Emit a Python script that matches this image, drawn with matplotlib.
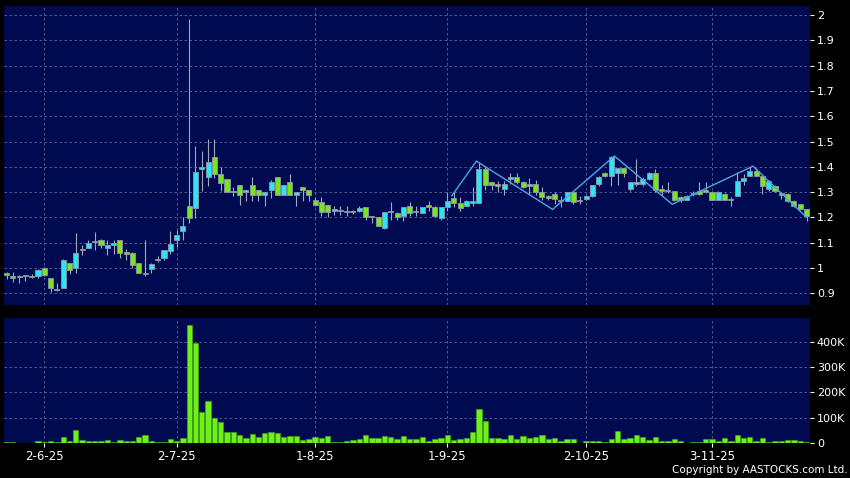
import matplotlib
matplotlib.use("Agg")
import matplotlib.pyplot as plt
import numpy as np

# trading-day index of each dated tick on the x axis
date_labels = ["2-6-25", "2-7-25", "1-8-25", "1-9-25", "2-10-25", "3-11-25"]
date_index = [6, 27, 49, 70, 92, 112]

opens = [
    0.982, 0.968, 0.965, 0.970, 0.970, 0.967, 1.000, 0.962, 0.913, 0.922,
    1.020, 1.000, 1.072, 1.080, 1.102, 1.112, 1.080, 1.093, 1.112, 1.058,
    1.061, 1.021, 0.976, 0.997, 1.030, 1.038, 1.067, 1.111, 1.147, 1.247,
    1.237, 1.390, 1.360, 1.440, 1.371, 1.351, 1.300, 1.327, 1.300, 1.327,
    1.307, 1.288, 1.307, 1.360, 1.287, 1.340, 1.287, 1.320, 1.307, 1.268,
    1.260, 1.248, 1.227, 1.224, 1.227, 1.227, 1.227, 1.240, 1.207, 1.200,
    1.157, 1.220, 1.217, 1.207, 1.247, 1.227, 1.217, 1.248, 1.240, 1.197,
    1.240, 1.277, 1.257, 1.247, 1.257, 1.257, 1.390, 1.340, 1.331, 1.311,
    1.354, 1.361, 1.341, 1.331, 1.331, 1.302, 1.282, 1.291, 1.266, 1.265,
    1.302, 1.265, 1.275, 1.284, 1.331, 1.374, 1.363, 1.374, 1.394, 1.311,
    1.331, 1.331, 1.354, 1.374, 1.311, 1.305, 1.304, 1.282, 1.271, 1.291,
    1.305, 1.305, 1.300, 1.271, 1.291, 1.272, 1.284, 1.345, 1.364, 1.384,
    1.364, 1.311, 1.325, 1.292, 1.291, 1.265, 1.252, 1.232,
]
closes = [
    0.971, 0.962, 0.963, 0.969, 0.963, 0.993, 0.971, 0.922, 0.912, 1.033,
    0.993, 1.061, 1.075, 1.099, 1.103, 1.093, 1.091, 1.094, 1.061, 1.057,
    1.013, 0.982, 0.975, 1.017, 1.036, 1.070, 1.097, 1.131, 1.167, 1.197,
    1.380, 1.400, 1.420, 1.371, 1.337, 1.300, 1.300, 1.287, 1.307, 1.287,
    1.287, 1.300, 1.340, 1.287, 1.327, 1.287, 1.300, 1.307, 1.287, 1.248,
    1.220, 1.220, 1.227, 1.224, 1.220, 1.220, 1.237, 1.200, 1.200, 1.168,
    1.220, 1.220, 1.200, 1.240, 1.217, 1.220, 1.240, 1.240, 1.207, 1.240,
    1.267, 1.257, 1.237, 1.267, 1.267, 1.390, 1.327, 1.327, 1.324, 1.331,
    1.361, 1.341, 1.321, 1.324, 1.302, 1.282, 1.278, 1.273, 1.264, 1.302,
    1.262, 1.265, 1.284, 1.328, 1.361, 1.363, 1.440, 1.394, 1.374, 1.341,
    1.341, 1.354, 1.374, 1.308, 1.304, 1.303, 1.271, 1.271, 1.284, 1.297,
    1.292, 1.302, 1.271, 1.300, 1.271, 1.270, 1.345, 1.356, 1.384, 1.364,
    1.325, 1.345, 1.304, 1.290, 1.265, 1.245, 1.232, 1.205,
]
highs = [
    0.985, 0.985, 0.971, 0.972, 0.976, 0.995, 1.004, 0.962, 0.940, 1.035,
    1.022, 1.140, 1.090, 1.112, 1.141, 1.115, 1.112, 1.112, 1.112, 1.074,
    1.063, 1.021, 1.112, 1.020, 1.048, 1.070, 1.148, 1.150, 1.200, 1.985,
    1.481, 1.461, 1.510, 1.510, 1.400, 1.351, 1.320, 1.327, 1.307, 1.360,
    1.310, 1.300, 1.347, 1.360, 1.327, 1.373, 1.300, 1.320, 1.307, 1.280,
    1.280, 1.250, 1.244, 1.244, 1.244, 1.230, 1.244, 1.240, 1.207, 1.200,
    1.220, 1.260, 1.220, 1.240, 1.260, 1.247, 1.240, 1.267, 1.247, 1.240,
    1.300, 1.300, 1.280, 1.270, 1.320, 1.420, 1.400, 1.340, 1.345, 1.345,
    1.375, 1.375, 1.345, 1.357, 1.350, 1.320, 1.290, 1.300, 1.285, 1.302,
    1.302, 1.285, 1.290, 1.330, 1.365, 1.380, 1.442, 1.394, 1.394, 1.341,
    1.430, 1.360, 1.380, 1.390, 1.330, 1.340, 1.304, 1.285, 1.290, 1.305,
    1.340, 1.340, 1.305, 1.305, 1.295, 1.281, 1.380, 1.370, 1.400, 1.395,
    1.364, 1.350, 1.330, 1.300, 1.295, 1.270, 1.255, 1.235,
]
lows = [
    0.955, 0.945, 0.940, 0.950, 0.962, 0.960, 0.968, 0.905, 0.910, 0.920,
    0.975, 0.980, 1.050, 1.080, 1.073, 1.080, 1.053, 1.057, 1.041, 1.030,
    1.000, 0.980, 0.968, 0.980, 1.025, 1.030, 1.055, 1.084, 1.111, 1.177,
    1.197, 1.304, 1.324, 1.357, 1.304, 1.300, 1.284, 1.248, 1.267, 1.267,
    1.267, 1.245, 1.277, 1.287, 1.287, 1.287, 1.244, 1.267, 1.267, 1.245,
    1.205, 1.200, 1.210, 1.210, 1.205, 1.215, 1.220, 1.190, 1.177, 1.168,
    1.155, 1.190, 1.190, 1.187, 1.205, 1.205, 1.217, 1.227, 1.200, 1.190,
    1.227, 1.240, 1.227, 1.245, 1.247, 1.257, 1.310, 1.307, 1.300, 1.290,
    1.331, 1.331, 1.315, 1.293, 1.290, 1.270, 1.270, 1.255, 1.243, 1.265,
    1.255, 1.255, 1.270, 1.280, 1.325, 1.360, 1.324, 1.330, 1.360, 1.305,
    1.325, 1.325, 1.350, 1.300, 1.290, 1.295, 1.265, 1.260, 1.268, 1.285,
    1.290, 1.295, 1.270, 1.268, 1.270, 1.245, 1.284, 1.330, 1.364, 1.364,
    1.291, 1.305, 1.300, 1.275, 1.260, 1.240, 1.228, 1.186,
]
# volume in thousands of shares
volumes_k = [
    4, 4, 1, 1, 3, 9, 4, 9, 6, 26,
    10, 52, 13, 9, 9, 9, 13, 5, 13, 8,
    10, 26, 31, 10, 5, 5, 18, 10, 20, 466,
    394, 125, 167, 98, 85, 46, 46, 33, 20, 37,
    25, 41, 45, 39, 24, 29, 28, 13, 18, 25,
    21, 29, 7, 5, 9, 14, 18, 31, 21, 21,
    29, 26, 16, 29, 18, 18, 24, 10, 16, 21,
    33, 13, 16, 22, 46, 135, 89, 22, 21, 18,
    34, 18, 29, 20, 25, 33, 17, 21, 9, 16,
    16, 3, 9, 10, 10, 5, 16, 50, 16, 20,
    31, 25, 13, 26, 10, 10, 16, 10, 3, 5,
    5, 16, 16, 9, 20, 9, 31, 21, 24, 10,
    20, 4, 10, 8, 14, 12, 10, 7,
]

# zigzag overlay (day position, price)
zigzag_x = [70.7, 74.6, 86.7, 96.5, 105.7, 118.5, 126.9]
zigzag_y = [1.286, 1.423, 1.232, 1.443, 1.252, 1.403, 1.203]

price_ticks = [0.9, 1, 1.1, 1.2, 1.3, 1.4, 1.5, 1.6, 1.7, 1.8, 1.9, 2]
volume_ticks = [0, 100, 200, 300, 400]
volume_labels = ["0", "100K", "200K", "300K", "400K"]

NAVY = "#000a50"
CYAN = "#2ce4f4"
GREEN = "#78e61e"
LIME = "#6ef01a"
GRID = "#5a6898"
WICK = "#a4a4bc"


def style_axes(ax):
    ax.set_facecolor(NAVY)
    for s in ax.spines.values():
        s.set_visible(False)
    ax.yaxis.tick_right()
    ax.tick_params(axis="y", colors="white", labelsize=8, length=3, width=0.8, pad=2)
    ax.grid(True, color=GRID, linestyle=(0, (3, 3)), linewidth=0.6)
    ax.set_axisbelow(True)
    ax.set_xlim(-0.4, 127.55)
    ax.set_xticks(date_index)


def main():
    x = np.arange(len(opens))
    o = np.array(opens)
    c = np.array(closes)
    up = c >= o

    fig = plt.figure(figsize=(8.5, 4.78), dpi=100, facecolor="black")
    ax = fig.add_axes([0.0047, 0.3619, 0.9482, 0.6255])
    axv = fig.add_axes([0.0047, 0.0726, 0.9482, 0.2615])

    # price panel
    style_axes(ax)
    ax.vlines(x, lows, highs, color=WICK, linewidth=0.8, zorder=2)
    body_low = np.minimum(o, c)
    body_h = np.maximum(np.abs(c - o), 0.005)
    colors = [CYAN if u else GREEN for u in up]
    ax.bar(x, body_h, bottom=body_low, width=0.8, color=colors,
           edgecolor="#8c98a8", linewidth=0.6, zorder=3)
    ax.plot(zigzag_x, zigzag_y, color="#4aa6e6", linewidth=1.0, zorder=4)
    ax.set_ylim(0.854, 2.036)
    ax.set_yticks(price_ticks)
    ax.set_yticklabels(["%g" % t for t in price_ticks])
    ax.tick_params(axis="x", length=0, labelbottom=False)

    # volume panel
    style_axes(axv)
    axv.bar(x, volumes_k, width=0.85, color=LIME, edgecolor="#4cb010",
            linewidth=0.4, zorder=3)
    axv.set_ylim(0, 492)
    axv.set_yticks(volume_ticks)
    axv.set_yticklabels(volume_labels)
    axv.set_xticklabels(date_labels)
    axv.tick_params(axis="x", colors="white", labelsize=8.5, length=3,
                    width=0.8, pad=2)

    fig.text(0.997, 0.006, "Copyright by AASTOCKS.com Ltd.", color="white",
             fontsize=7.5, ha="right", va="bottom")

    fig.savefig("out.png", dpi=100, facecolor="black")


if __name__ == "__main__":
    main()
